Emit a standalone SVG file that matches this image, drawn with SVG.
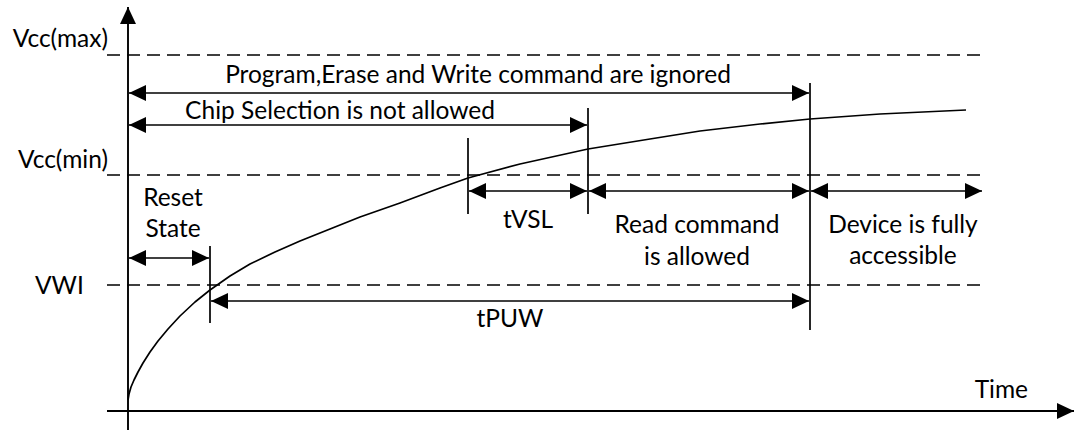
<svg xmlns="http://www.w3.org/2000/svg" width="1076" height="430" viewBox="0 0 1076 430">
<style>
.t{font-family:Lato,"Open Sans","Liberation Sans",sans-serif;font-size:24.5px;fill:#000}
.m{text-anchor:middle}
.e{text-anchor:end}
.ax{stroke:#000;stroke-width:1.9;fill:none}
.ln{stroke:#000;stroke-width:1.7;fill:none}
.dash{stroke:#000;stroke-width:1.7;fill:none;stroke-dasharray:13 7}
.a1{marker-end:url(#ah)}
.a2{marker-start:url(#ah);marker-end:url(#ah)}
</style>
<defs>
<marker id="ah" markerUnits="userSpaceOnUse" markerWidth="17" markerHeight="16" refX="17" refY="8" orient="auto-start-reverse" viewBox="0 0 17 16">
<path d="M0,0 L17,8 L0,16 z" fill="#000"/>
</marker>
</defs>
<rect width="1076" height="430" fill="#fff"/>
<g id="axes">
<line class="ax a1" x1="128" y1="430" x2="128" y2="7"/>
<line class="ax a1" x1="107" y1="411" x2="1074" y2="411"/>
<text class="t" x="1028" y="398" text-anchor="end">Time</text>
</g>
<g id="levels">
<line class="dash" x1="107" y1="55" x2="985" y2="55"/>
<line class="dash" x1="107" y1="175" x2="985" y2="175"/>
<line class="dash" x1="107" y1="285" x2="985" y2="285"/>
<text class="t e" x="108" y="47">Vcc(max)</text>
<text class="t e" x="108" y="168">Vcc(min)</text>
<text class="t" x="35" y="294">VWI</text>
</g>
<g id="curve">
<polyline class="ln" stroke-linejoin="round" points="128,400 129,394 131,387 134,380 138,372 143,363 150,352 158,341 168,329 180,316 195,302 210,290 230,276 250,264 275,252 300,241 330,229 360,217 400,203 440,188 468,178 520,164 588,149 650,139 700,131 760,124 810,119 880,114 966,110"/>
</g>
<g id="markers">
<line class="ln" x1="210" y1="246" x2="210" y2="323"/>
<line class="ln" x1="468" y1="138" x2="468" y2="214"/>
<line class="ln" x1="588" y1="108" x2="588" y2="214"/>
<line class="ln" x1="810" y1="83" x2="810" y2="330"/>
</g>
<g id="connectors">
<line class="ln a2" x1="129" y1="93" x2="809" y2="93"/>
<line class="ln a2" x1="129" y1="125" x2="587" y2="125"/>
<line class="ln a2" x1="129" y1="258" x2="209" y2="258"/>
<line class="ln a2" x1="469" y1="191" x2="587" y2="191"/>
<line class="ln a2" x1="589" y1="191" x2="809" y2="191"/>
<line class="ln a2" x1="811" y1="191" x2="982" y2="191"/>
<line class="ln a2" x1="211" y1="301" x2="809" y2="301"/>
</g>
<g id="labels">
<text class="t m" x="478" y="83">Program,Erase and Write command are ignored</text>
<text class="t m" x="340" y="119">Chip Selection is not allowed</text>
<text class="t m" x="173" y="206">Reset</text>
<text class="t m" x="173" y="237">State</text>
<text class="t m" x="528" y="228">tVSL</text>
<text class="t m" x="697" y="233">Read command</text>
<text class="t m" x="697" y="265">is allowed</text>
<text class="t m" x="903" y="233">Device is fully</text>
<text class="t m" x="903" y="264">accessible</text>
<text class="t m" x="510" y="327">tPUW</text>
</g>
</svg>
